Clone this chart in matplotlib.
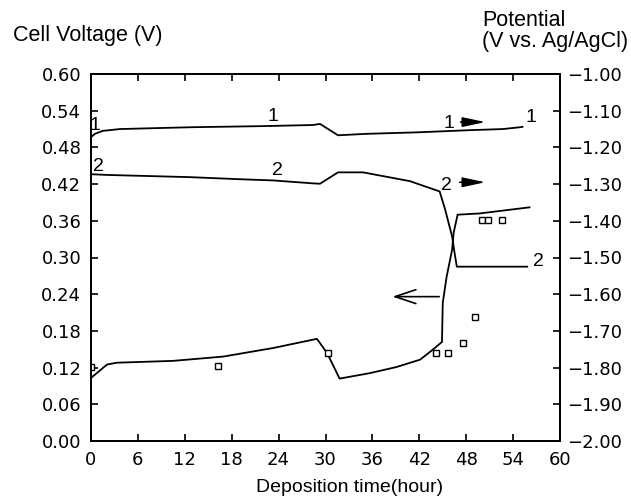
import matplotlib
matplotlib.use("Agg")
import matplotlib.pyplot as plt
import numpy as np

plt.rcParams['font.family'] = ['Liberation Sans', 'DejaVu Sans']

# curve 1 : potential (right axis), hours / V vs Ag/AgCl
c1_t = [0.0, 0.5, 1.5, 3.7, 12.9, 22.0, 28.4, 29.3, 31.6, 35.3, 41.7, 48.5, 52.7, 54.9, 55.2]
c1_v = [-1.172, -1.163, -1.155, -1.150, -1.145, -1.142, -1.139, -1.136, -1.167, -1.163, -1.159, -1.153, -1.150, -1.145, -1.144]

# curve 2 : potential (right axis)
c2_t = [0.0, 2.0, 12.6, 19.4, 23.3, 28.4, 29.3, 31.6, 34.8, 40.8, 44.6, 45.3, 46.2, 46.5, 46.8, 55.8]
c2_v = [-1.273, -1.275, -1.281, -1.287, -1.290, -1.298, -1.299, -1.268, -1.268, -1.292, -1.320, -1.369, -1.443, -1.486, -1.525, -1.525]

# curve 3 : cell voltage (left axis)
c3_t = [0.0, 2.05, 3.3, 10.5, 16.9, 23.3, 28.9, 30.2, 31.8, 35.7, 39.1, 42.1, 43.7, 44.9, 45.0, 45.5, 46.2, 46.4, 46.9, 49.7, 56.1]
c3_v = [0.103, 0.125, 0.128, 0.131, 0.138, 0.152, 0.167, 0.144, 0.102, 0.111, 0.121, 0.133, 0.149, 0.162, 0.226, 0.269, 0.313, 0.341, 0.370, 0.372, 0.382]

# open squares (left axis)
sq_t = [0.0, 16.2, 30.3, 44.1, 45.7, 47.6, 49.1, 50.0, 50.8, 52.6]
sq_v = [0.121, 0.123, 0.144, 0.144, 0.144, 0.161, 0.203, 0.362, 0.362, 0.362]

xticks = np.arange(0, 61, 6)
yticks_left = np.arange(0, 0.61, 0.06)
yticks_right = np.arange(-2.0, -0.99, 0.1)

fig = plt.figure(figsize=(6.31, 5.0), dpi=100)
ax = fig.add_axes([0.1442, 0.118, 0.7433, 0.734])
ax2 = ax.twinx()

ax.plot(c3_t, c3_v, color='black', lw=1.3)
ax.plot(sq_t, sq_v, ls='none', marker='s', ms=4.5, mfc='white', mec='black', mew=1.0)
ax2.plot(c1_t, c1_v, color='black', lw=1.3)
ax2.plot(c2_t, c2_v, color='black', lw=1.3)

ax.set_xlim(0, 60)
ax.set_ylim(0, 0.6)
ax2.set_ylim(-2.0, -1.0)
ax.set_xticks(xticks)
ax.set_yticks(yticks_left)
ax2.set_yticks(yticks_right)
ax.set_xticklabels([str(int(t)) for t in xticks])
ax.set_yticklabels(['%.2f' % v for v in yticks_left])
ax2.set_yticklabels(['\u2212%.2f' % abs(v) for v in yticks_right])

ax.tick_params(direction='in', length=5, width=1.2, labelsize=13, top=True, right=False, pad=7)
ax.tick_params(axis='x', pad=7)
ax2.tick_params(direction='in', length=5, width=1.2, labelsize=13, pad=5)
for lbl in ax.get_xticklabels() + ax.get_yticklabels() + ax2.get_yticklabels():
    lbl.set_family('DejaVu Sans')
for a in (ax, ax2):
    for s in a.spines.values():
        s.set_linewidth(1.3)

# curve labels
lab = dict(fontsize=14, ha='center', va='center')
ax2.text(0.5, -1.140, '1', **lab)
ax2.text(23.3, -1.115, '1', **lab)
ax2.text(45.8, -1.135, '1', **lab)
ax2.text(56.3, -1.118, '1', **lab)
ax2.text(1.0, -1.251, '2', **lab)
ax2.text(23.9, -1.262, '2', **lab)
ax2.text(45.5, -1.303, '2', **lab)
ax2.text(57.2, -1.512, '2', **lab)

# arrows
ax2.annotate('', xy=(50.8, -1.131), xytext=(46.9, -1.131),
             arrowprops=dict(arrowstyle='-|>,head_length=1.4,head_width=0.3', color='black', lw=1.1))
ax2.annotate('', xy=(50.8, -1.295), xytext=(46.8, -1.295),
             arrowprops=dict(arrowstyle='-|>,head_length=1.4,head_width=0.3', color='black', lw=1.1))
ax.annotate('', xy=(38.2, 0.236), xytext=(44.9, 0.236),
            arrowprops=dict(arrowstyle='->,head_length=1.5,head_width=0.5', color='black', lw=1.2))

fig.text(350 / 631, 1 - 487 / 500, 'Deposition time(hour)', fontsize=14, ha='center', va='center')
fig.text(13 / 631, 1 - 36 / 500, 'Cell Voltage (V)', fontsize=15.5, ha='left', va='center')
fig.text(482 / 631, 1 - 20 / 500, 'Potential', fontsize=15.5, ha='left', va='center')
fig.text(482 / 631, 1 - 41 / 500, '(V vs. Ag/AgCl)', fontsize=15.5, ha='left', va='center')

fig.savefig('out.png', dpi=100)
